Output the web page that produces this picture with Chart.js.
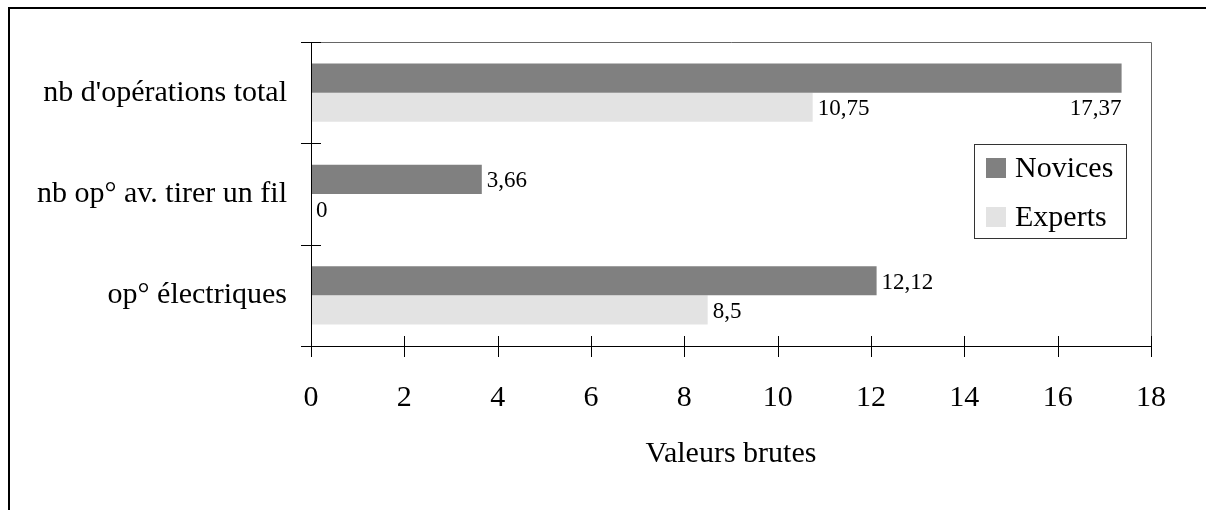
<!DOCTYPE html>
<html>
<head>
<meta charset="utf-8">
<script src="https://cdn.jsdelivr.net/npm/chart.js@4.4.1/dist/chart.umd.min.js"></script>
<style>
  html, body { margin: 0; padding: 0; background: #fff; overflow: hidden; }
  canvas { display: block; }
</style>
</head>
<body>
<canvas id="c" width="1206" height="510"></canvas>
<script>
const categories = ["nb d'opérations total", "nb op° av. tirer un fil", "op° électriques"];
const seriesNames = ["Novices", "Experts"];
const novices = [17.37, 3.66, 12.12];
const experts = [10.75, 0, 8.5];
const xTicks = [0, 2, 4, 6, 8, 10, 12, 14, 16, 18];
const axisTitle = "Valeurs brutes";

const FONT = "'Liberation Serif', 'Times New Roman', serif";
const colors = ["#808080", "#e3e3e3"];

function fmt(v) { return String(v).replace('.', ','); }

const framePlugin = {
  id: 'frame',
  beforeDraw(chart) {
    const ctx = chart.ctx;
    ctx.save();
    ctx.fillStyle = '#fff';
    ctx.fillRect(0, 0, chart.width, chart.height);
    ctx.fillStyle = '#000';
    ctx.fillRect(8, 7, chart.width - 8, 2);
    ctx.fillRect(8, 7, 2, chart.height - 7);
    ctx.restore();
  }
};

const decorPlugin = {
  id: 'decor',
  afterDatasetsDraw(chart) {
    const ctx = chart.ctx;
    const ca = chart.chartArea;
    const xs = chart.scales.x, ys = chart.scales.y;
    ctx.save();
    // plot frame top/right
    ctx.strokeStyle = '#666';
    ctx.lineWidth = 1;
    ctx.beginPath();
    ctx.moveTo(ca.left, Math.round(ca.top) + 0.5);
    ctx.lineTo(Math.round(ca.right) + 0.5, Math.round(ca.top) + 0.5);
    ctx.lineTo(Math.round(ca.right) + 0.5, Math.round(ca.bottom));
    ctx.stroke();
    // axes
    ctx.strokeStyle = '#000';
    ctx.beginPath();
    ctx.moveTo(Math.round(ca.left) + 0.5, ca.top);
    ctx.lineTo(Math.round(ca.left) + 0.5, ca.bottom);
    ctx.moveTo(ca.left - 10, Math.round(ca.bottom) + 0.5);
    ctx.lineTo(ca.right, Math.round(ca.bottom) + 0.5);
    // x ticks crossing the axis
    xTicks.forEach(v => {
      const px = Math.round(xs.getPixelForValue(v)) + 0.5;
      ctx.moveTo(px, ca.bottom - 10);
      ctx.lineTo(px, ca.bottom + 11);
    });
    // category boundaries
    for (let i = 0; i <= categories.length; i++) {
      const py = Math.round(ys.getPixelForValue(i - 0.5)) + 0.5;
      ctx.moveTo(ca.left - 10, py);
      ctx.lineTo(ca.left + 10, py);
    }
    ctx.stroke();

    // data labels
    ctx.font = "23px " + FONT;
    ctx.fillStyle = '#000';
    ctx.textBaseline = 'middle';
    chart.data.datasets.forEach((ds, di) => {
      const meta = chart.getDatasetMeta(di);
      meta.data.forEach((bar, i) => {
        const txt = fmt(ds.data[i]);
        const w = ctx.measureText(txt).width;
        const xEnd = bar.x;
        if (xEnd + 6 + w > ca.right) {
          ctx.textAlign = 'right';
          ctx.fillText(txt, xEnd, bar.y + bar.height + 2);
        } else {
          ctx.textAlign = 'left';
          ctx.fillText(txt, xEnd + 5, bar.y + 2);
        }
      });
    });

    // legend
    const lx = 974, ly = 144, lw = 152, lh = 94;
    ctx.fillStyle = '#fff';
    ctx.fillRect(lx, ly, lw, lh);
    ctx.strokeStyle = '#333';
    ctx.strokeRect(lx + 0.5, ly + 0.5, lw, lh);
    ctx.font = "30px " + FONT;
    ctx.textAlign = 'left';
    ctx.textBaseline = 'middle';
    chart.data.datasets.forEach((ds, di) => {
      const cy = ly + 24 + di * 49;
      ctx.fillStyle = ds.backgroundColor;
      ctx.fillRect(lx + 12, cy - 10, 20, 20);
      ctx.fillStyle = '#000';
      ctx.fillText(ds.label, lx + 41, cy + 1);
    });
    ctx.restore();
  }
};

new Chart(document.getElementById('c'), {
  type: 'bar',
  data: {
    labels: categories,
    datasets: [
      { label: seriesNames[0], data: novices, backgroundColor: colors[0], borderWidth: 0 },
      { label: seriesNames[1], data: experts, backgroundColor: colors[1], borderWidth: 0 }
    ]
  },
  options: {
    indexAxis: 'y',
    responsive: false,
    animation: false,
    devicePixelRatio: 1,
    categoryPercentage: 0.575,
    barPercentage: 1,
    layout: { padding: { left: 0, right: 55, top: 39, bottom: 0 } },
    plugins: { legend: { display: false }, tooltip: { enabled: false } },
    scales: {
      x: {
        min: 0, max: 18,
        afterBuildTicks(scale) { scale.ticks = xTicks.map(v => ({ value: v })); },
        afterFit(scale) { scale.height = 164; },
        grid: { display: false, drawTicks: false },
        border: { display: false },
        ticks: { color: '#000', font: { family: FONT, size: 30 }, padding: 34, maxRotation: 0, autoSkip: false },
        title: { display: true, text: axisTitle, color: '#000', font: { family: FONT, size: 30 }, padding: { top: 0, bottom: 38 } }
      },
      y: {
        afterFit(scale) { scale.width = 311; },
        grid: { display: false, drawTicks: false },
        border: { display: false },
        ticks: { color: '#000', font: { family: FONT, size: 30 }, padding: 24 }
      }
    }
  },
  plugins: [framePlugin, decorPlugin]
});
</script>
</body>
</html>
